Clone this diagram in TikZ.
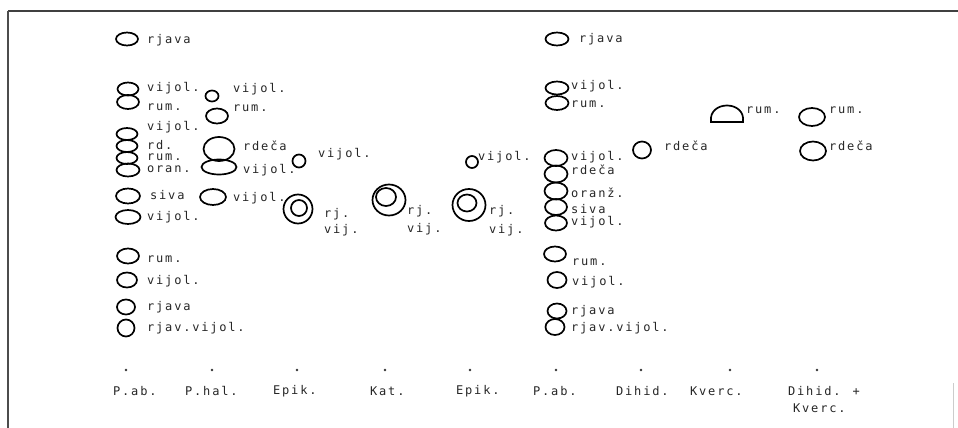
\documentclass[tikz,border=0pt]{standalone}
\usepackage{fontspec}
\newfontfamily\platefont[LetterSpace=15]{DejaVu Sans Mono}
\usetikzlibrary{shapes.geometric}

\begin{document}
\begin{tikzpicture}[x=1pt, y=-1pt,
    spot/.style 2 args={draw, ellipse, line width=1.7pt, inner sep=0pt,
        minimum width=#1pt, minimum height=#2pt},
    lbl/.style={anchor=west, inner sep=0pt, text=black!85,
        font=\platefont\fontsize{12}{13}\selectfont},
    start/.style={circle, fill=black!80, inner sep=0pt, minimum size=2.6pt}]
    \useasboundingbox (0,0) rectangle (958,428);

    % plate edges
    \draw[line width=1.6pt, black!75] (8,11) -- (958,11);
    \draw[line width=1.2pt, black!70] (8,11) -- (8,428);
    \draw[line width=0.8pt, black!20] (953,383) -- (953,428);

    % P.ab. (left)
    \node[spot={22}{13}] (a1) at (127,39) {};
    \node[lbl] (la1) at (147,40) {rjava};
    \node[spot={21}{13}] (a2) at (128,89) {};
    \node[lbl] (la2) at (147,88) {vijol.};
    \node[spot={22}{14}] (a3) at (128,102) {};
    \node[lbl] (la3) at (147,107) {rum.};
    \node[lbl] (la4) at (147,127) {vijol.};
    \node[spot={21}{12}] (a4) at (127,134) {};
    \node[spot={21}{12}] (a5) at (127,146) {};
    \node[lbl] (la5) at (147,145) {rd.};
    \node[spot={21}{12}] (a6) at (127,158) {};
    \node[lbl] (la6) at (147,157) {rum.};
    \node[spot={23}{13}] (a7) at (128,170) {};
    \node[lbl] (la7) at (147,169) {oran.};
    \node[spot={24}{15}] (a8) at (128,196) {};
    \node[lbl] (la8) at (150,195) {siva};
    \node[spot={25}{14}] (a9) at (128,217) {};
    \node[lbl] (la9) at (147,217) {vijol.};
    \node[spot={22}{15}] (a10) at (128,256) {};
    \node[lbl] (la10) at (147,259) {rum.};
    \node[spot={20}{15}] (a11) at (127,280) {};
    \node[lbl] (la11) at (147,281) {vijol.};
    \node[spot={18}{15}] (a12) at (126,307) {};
    \node[lbl] (la12) at (147,307) {rjava};
    \node[spot={17}{17}] (a13) at (126,328) {};
    \node[lbl] (la13) at (147,328) {rjav.vijol.};

    % P.hal.
    \node[spot={13}{11}] (b1) at (212,96) {};
    \node[lbl] (lb1) at (233,89) {vijol.};
    \node[spot={22}{15}] (b2) at (217,116) {};
    \node[lbl] (lb2) at (233,108) {rum.};
    \node[spot={31}{24}] (b3) at (219,149) {};
    \node[lbl] (lb3) at (243,146) {rdeča};
    \node[spot={35}{15}] (b4) at (219,167) {};
    \node[lbl] (lb4) at (243,170) {vijol.};
    \node[spot={26}{16}] (b5) at (213,197) {};
    \node[lbl] (lb5) at (233,198) {vijol.};

    % Epik.
    \node[spot={13}{13}] (c1) at (299,161) {};
    \node[lbl] (lc1) at (318,154) {vijol.};
    \node[spot={29}{29}] (c2) at (298,209) {};
    \node[spot={16}{16}] (c3) at (299,208) {};
    \node[lbl] (lc2) at (324,214) {rj.};
    \node[lbl] (lc3) at (324,230) {vij.};

    % Kat.
    \node[spot={33}{31}] (d1) at (389,200) {};
    \node[spot={20}{18}] (d2) at (386,197) {};
    \node[lbl] (ld1) at (407,211) {rj.};
    \node[lbl] (ld2) at (407,229) {vij.};

    % Epik.
    \node[spot={12}{12}] (e1) at (472,162) {};
    \node[lbl] (le1) at (478,157) {vijol.};
    \node[spot={33}{32}] (e2) at (469,205) {};
    \node[spot={19}{17}] (e3) at (467,203) {};
    \node[lbl] (le2) at (489,211) {rj.};
    \node[lbl] (le3) at (489,230) {vij.};

    % P.ab. (right)
    \node[spot={23}{13}] (f1) at (557,39) {};
    \node[lbl] (lf1) at (579,39) {rjava};
    \node[spot={23}{13}] (f2) at (557,88) {};
    \node[lbl] (lf2) at (571,86) {vijol.};
    \node[spot={23}{14}] (f3) at (557,103) {};
    \node[lbl] (lf3) at (571,104) {rum.};
    \node[spot={23}{16}] (f4) at (556,158) {};
    \node[lbl] (lf4) at (571,157) {vijol.};
    \node[spot={23}{17}] (f5) at (556,174) {};
    \node[lbl] (lf5) at (571,170) {rdeča};
    \node[spot={23}{17}] (f6) at (556,191) {};
    \node[lbl] (lf6) at (571,193) {oranž.};
    \node[spot={22}{16}] (f7) at (556,207) {};
    \node[lbl] (lf7) at (571,209) {siva};
    \node[spot={22}{15}] (f8) at (556,223) {};
    \node[lbl] (lf8) at (571,222) {vijol.};
    \node[spot={22}{15}] (f9) at (555,254) {};
    \node[lbl] (lf9) at (572,262) {rum.};
    \node[spot={19}{16}] (f10) at (557,280) {};
    \node[lbl] (lf10) at (572,282) {vijol.};
    \node[spot={19}{15}] (f11) at (557,311) {};
    \node[lbl] (lf11) at (571,311) {rjava};
    \node[spot={19}{16}] (f12) at (555,327) {};
    \node[lbl] (lf12) at (571,328) {rjav.vijol.};

    % Dihid.
    \node[spot={18}{17}] (g1) at (642,150) {};
    \node[lbl] (lg1) at (664,146) {rdeča};

    % Kverc.
    \draw[line width=1.7pt] (711,122) .. controls (708,100) and (746,100) .. (743,122) -- cycle;
    \node[lbl] (lh1) at (746,110) {rum.};

    % Dihid. + Kverc.
    \node[spot={26}{18}] (k1) at (812,117) {};
    \node[lbl] (lk1) at (829,110) {rum.};
    \node[spot={26}{19}] (k2) at (813,151) {};
    \node[lbl] (lk2) at (829,146) {rdeča};

    % start line
    \foreach \x [count=\i] in {126,212,297,385,470,556,641,730,817}
        \node[start] (o\i) at (\x,370) {};
    \node[lbl] (n1) at (113,391) {P.ab.};
    \node[lbl] (n2) at (185,391) {P.hal.};
    \node[lbl] (n3) at (273,391) {Epik.};
    \node[lbl] (n4) at (370,391) {Kat.};
    \node[lbl] (n5) at (456,391) {Epik.};
    \node[lbl] (n6) at (533,391) {P.ab.};
    \node[lbl] (n7) at (616,391) {Dihid.};
    \node[lbl] (n8) at (690,391) {Kverc.};
    \node[lbl] (n9) at (788,391) {Dihid. +};
    \node[lbl] (n10) at (793,408) {Kverc.};
\end{tikzpicture}
\end{document}
